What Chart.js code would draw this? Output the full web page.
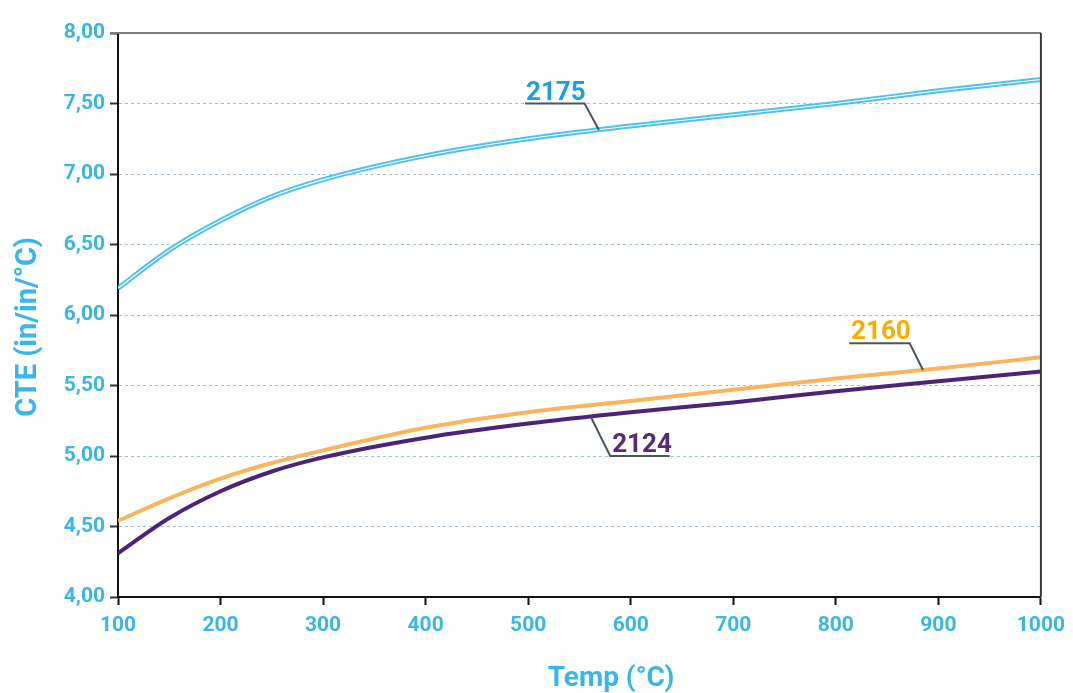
<!DOCTYPE html>
<html><head><meta charset="utf-8">
<script src="https://cdn.jsdelivr.net/npm/chart.js@4.4.1/dist/chart.umd.min.js"></script>
<style>html,body{margin:0;padding:0;background:#fff}#wrap{width:1073px;height:693px}</style>
</head><body><div id="wrap"><canvas id="c" width="1073" height="693"></canvas></div>
<script>
const temps = [100, 150, 200, 250, 300, 400, 500, 600, 700, 800, 900, 1000];
const cte2175 = [6.19, 6.46, 6.67, 6.84, 6.96, 7.13, 7.25, 7.34, 7.42, 7.50, 7.59, 7.67];
const cte2160 = [4.54, 4.70, 4.84, 4.95, 5.04, 5.20, 5.31, 5.39, 5.47, 5.55, 5.62, 5.70];
const cte2124 = [4.31, 4.56, 4.75, 4.89, 4.99, 5.13, 5.23, 5.31, 5.38, 5.46, 5.53, 5.60];
const seriesNames = ['2175', '2160', '2124'];
const yTicks = [4.0, 4.5, 5.0, 5.5, 6.0, 6.5, 7.0, 7.5, 8.0];
const xTitle = 'Temp (°C)';
const yTitle = 'CTE (in/in/°C)';

const pts = arr => temps.map((t, i) => ({x: t, y: arr[i]}));

// label callouts: anchor on curve (x value), elbow (x,y), end of underline (x)
const callouts = [
  {text: seriesNames[0], color: '#1a9fe0', onCurveX: 569, elbowX: 555, elbowY: 7.50, endX: 497, textX: 527},
  {text: seriesNames[1], color: '#f7ae00', onCurveX: 885, elbowX: 872, elbowY: 5.80, endX: 813, textX: 844},
  {text: seriesNames[2], color: '#56287e', onCurveX: 561, elbowX: 580, elbowY: 5.00, endX: 638, textX: 611}
];
const curveArrs = [cte2175, cte2160, cte2124];

function interp(arr, x) {
  for (let i = 0; i < temps.length - 1; i++) {
    if (x >= temps[i] && x <= temps[i+1]) {
      const f = (x - temps[i]) / (temps[i+1] - temps[i]);
      return arr[i] + f * (arr[i+1] - arr[i]);
    }
  }
  return arr[arr.length - 1];
}

const blue = '#38b6e8';
const framePlugin = {
  id: 'frame',
  afterDraw(chart) {
    const {ctx, chartArea: a, scales} = chart;
    ctx.save();
    ctx.lineWidth = 2;
    ctx.strokeStyle = '#7a7a7a';
    ctx.beginPath(); ctx.moveTo(a.left - 8, a.top); ctx.lineTo(a.right, a.top); ctx.stroke();
    ctx.strokeStyle = '#3a3a3a';
    ctx.beginPath(); ctx.moveTo(a.right, a.top); ctx.lineTo(a.right, a.bottom); ctx.stroke();
    // callouts
    callouts.forEach((c, k) => {
      const arr = curveArrs[k];
      const px = scales.x.getPixelForValue(c.onCurveX);
      const py = scales.y.getPixelForValue(interp(arr, c.onCurveX));
      const ex = scales.x.getPixelForValue(c.elbowX);
      const ey = scales.y.getPixelForValue(c.elbowY);
      const nx = scales.x.getPixelForValue(c.endX);
      ctx.strokeStyle = '#4a5560';
      ctx.lineWidth = 2;
      ctx.beginPath(); ctx.moveTo(px, py); ctx.lineTo(ex, ey); ctx.lineTo(nx, ey); ctx.stroke();
      ctx.fillStyle = c.color;
      ctx.font = 'bold 26px Roboto';
      ctx.textAlign = 'center';
      ctx.textBaseline = 'alphabetic';
      ctx.fillText(c.text, scales.x.getPixelForValue(c.textX), ey - 4);
    });
    // axis titles
    ctx.fillStyle = blue;
    ctx.font = 'bold 28px Roboto';
    ctx.textAlign = 'center';
    ctx.textBaseline = 'alphabetic';
    ctx.fillText(xTitle, 611, 686);
    ctx.translate(28, 327);
    ctx.rotate(-Math.PI / 2);
    ctx.font = 'bold 29px Roboto';
    ctx.textBaseline = 'middle';
    ctx.fillText(yTitle, 0, 1);
    ctx.restore();
  }
};

new Chart(document.getElementById('c'), {
  type: 'line',
  data: {
    datasets: [
      {label: seriesNames[1], data: pts(cte2160), borderColor: '#f8b55c', borderWidth: 4, pointRadius: 0, cubicInterpolationMode: 'monotone'},
      {label: seriesNames[2], data: pts(cte2124), borderColor: '#4b2476', borderWidth: 4, pointRadius: 0, cubicInterpolationMode: 'monotone'},
      {label: seriesNames[0] + ' inner', data: pts(cte2175), borderColor: '#ffffff', borderWidth: 1.1, pointRadius: 0, cubicInterpolationMode: 'monotone', order: -1},
      {label: seriesNames[0], data: pts(cte2175), borderColor: '#4fc1ee', borderWidth: 5, pointRadius: 0, cubicInterpolationMode: 'monotone', order: 0}
    ]
  },
  options: {
    animation: false,
    responsive: false,
    devicePixelRatio: 1,
    layout: {padding: {top: 33, right: 28, left: 0, bottom: 0}},
    plugins: {legend: {display: false}, tooltip: {enabled: false}},
    scales: {
      x: {
        type: 'linear', min: 100, max: 1000,
        afterFit: s => { s.height = 96; },
        ticks: {stepSize: 100, color: blue, font: {family: 'Roboto', weight: 'bold', size: 21}, padding: 8, maxRotation: 0,
          callback: v => String(v)},
        grid: {drawOnChartArea: false, drawTicks: true, tickLength: 8, tickColor: '#111', tickWidth: 2},
        border: {color: '#111', width: 2},
        title: {display: false}
      },
      y: {
        min: 4, max: 8,
        afterFit: s => { s.width = 118; },
        afterBuildTicks: s => { s.ticks = yTicks.map(v => ({value: v})); },
        ticks: {color: blue, font: {family: 'Roboto', weight: 'bold', size: 21}, padding: 5,
          callback: v => v.toFixed(2).replace('.', ',')},
        grid: {
          color: ctx => (ctx.tick && (ctx.tick.value === 8 || ctx.tick.value === 4)) ? 'rgba(0,0,0,0)' : '#9cc3d3',
          lineWidth: 1, drawTicks: true, tickLength: 8, tickColor: '#333', tickWidth: 2
        },
        border: {color: '#111', width: 2, dash: [3, 3]},
        title: {display: false}
      }
    }
  },
  plugins: [framePlugin]
});
</script></body></html>
